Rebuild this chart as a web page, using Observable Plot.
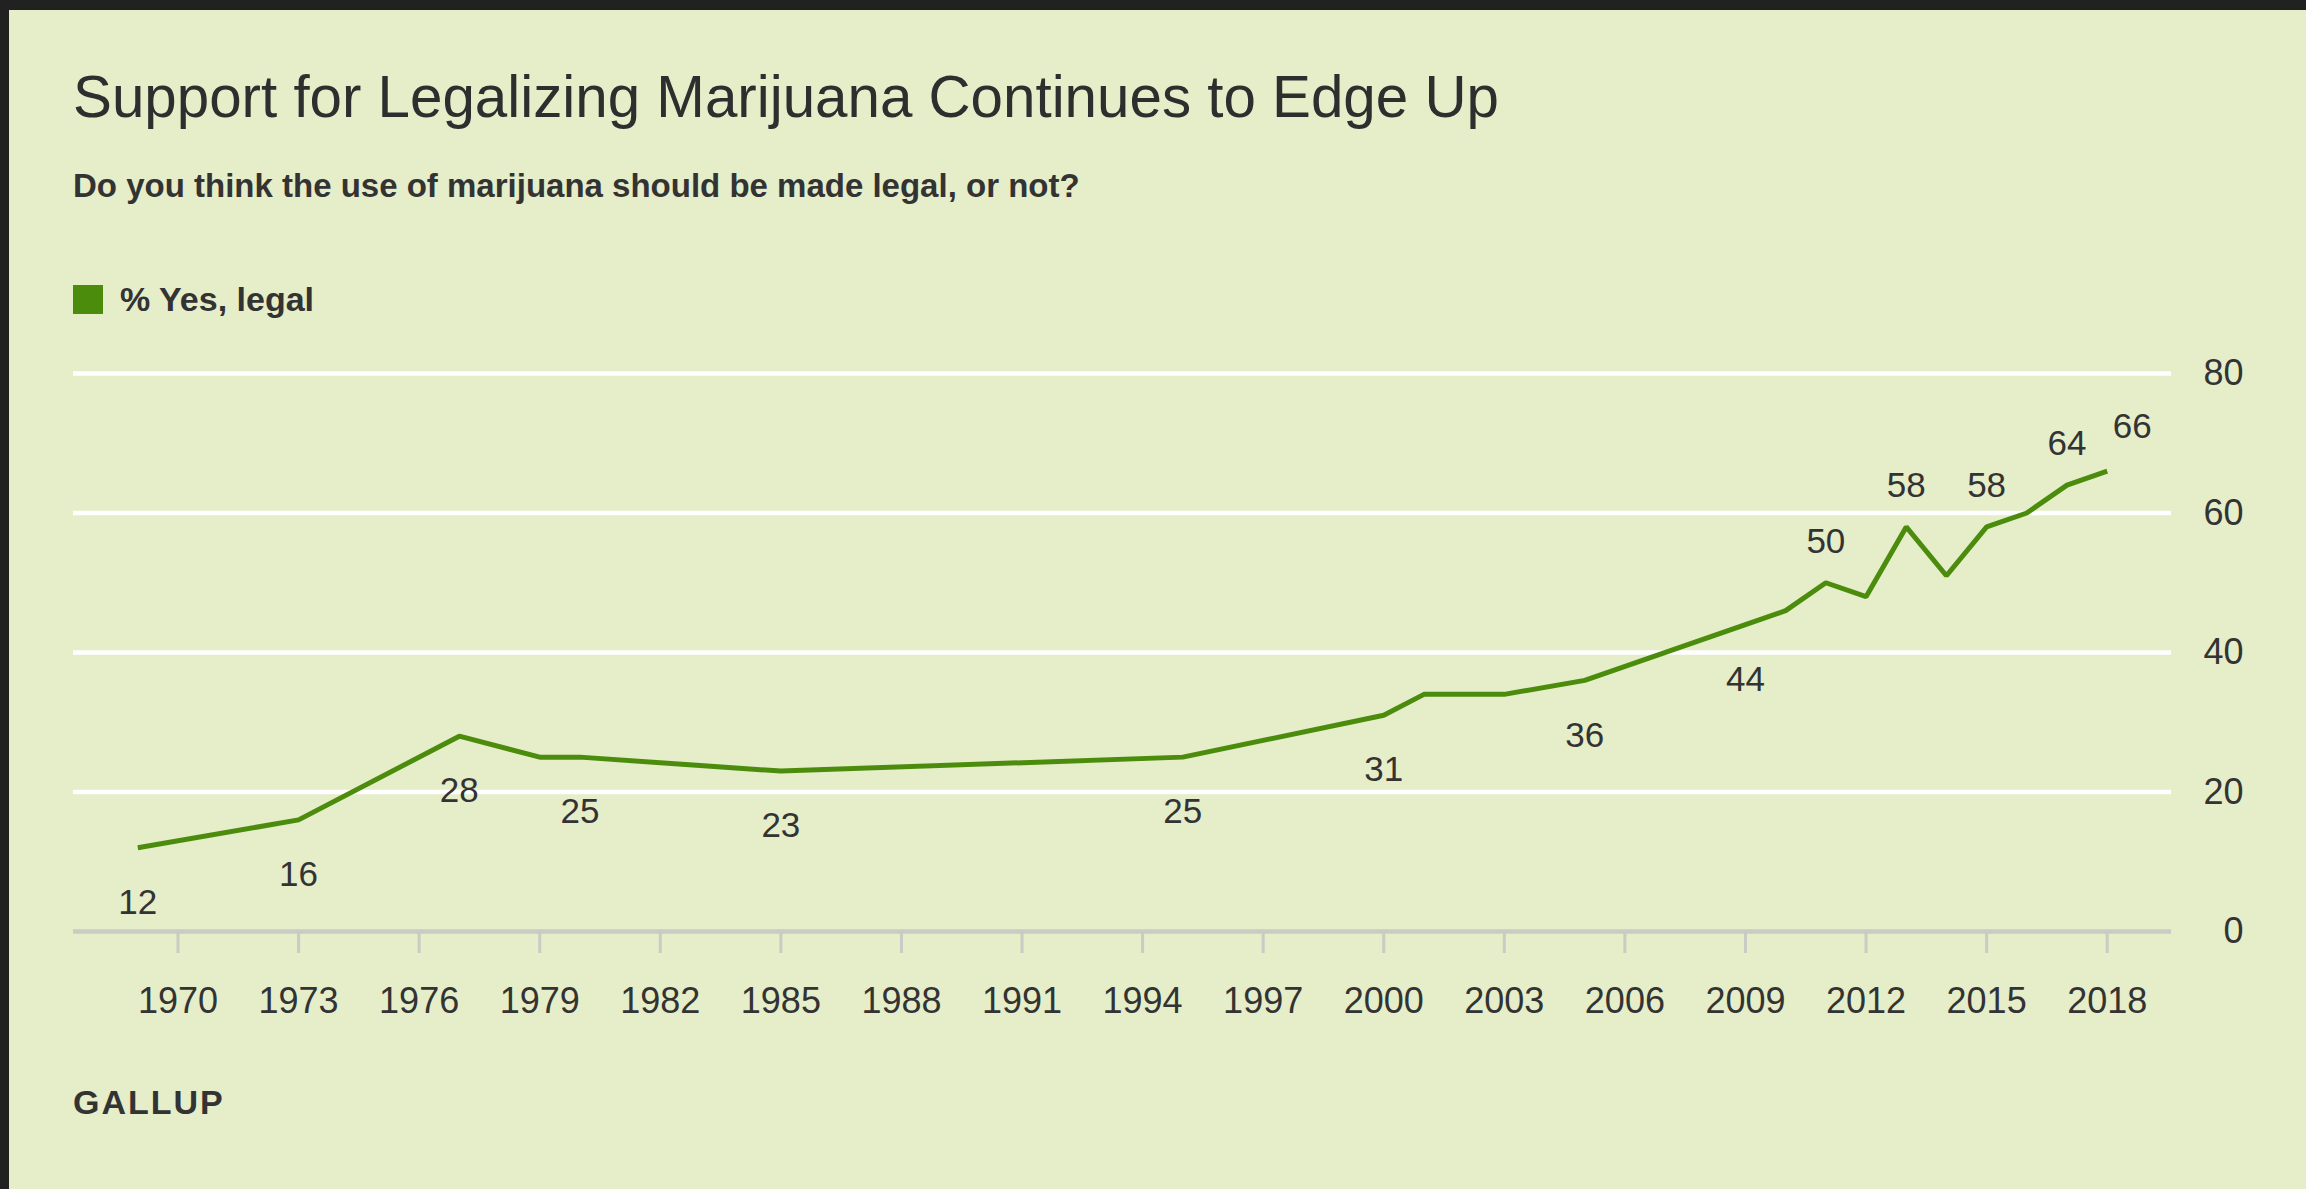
<!DOCTYPE html>
<html>
<head>
<meta charset="utf-8">
<script src="https://cdn.jsdelivr.net/npm/d3@7"></script>
<script src="https://cdn.jsdelivr.net/npm/@observablehq/plot@0.6"></script>
<style>
  html, body { margin: 0; padding: 0; }
  body {
    width: 2306px; height: 1189px; position: relative; overflow: hidden;
    background: #e5edc9; font-family: "Liberation Sans", Arial, sans-serif; color: #333;
  }
  .edge-top { position: absolute; left: 0; top: 0; width: 2306px; height: 10px; background: #212121; }
  .edge-left { position: absolute; left: 0; top: 0; width: 9px; height: 1189px; background: #212121; }
  .title { position: absolute; left: 73px; top: 68px; font-size: 58.3px; line-height: 1; white-space: nowrap; color: #2e2e2e; }
  .subtitle { position: absolute; left: 73px; top: 169px; font-size: 33px; line-height: 1; font-weight: 700; white-space: nowrap; color: #333; }
  .legend { position: absolute; left: 73px; top: 282px; height: 34px; display: flex; align-items: center; white-space: nowrap; }
  .legend .swatch { width: 30px; height: 29px; background: #4b8c0c; margin-right: 17px; }
  .legend .label { font-size: 34px; line-height: 1; font-weight: 700; color: #333; }
  #chart { position: absolute; left: 0; top: 340px; }
  .source { position: absolute; left: 73px; top: 1085px; font-size: 34px; line-height: 1; font-weight: 700; letter-spacing: 2px; color: #333; }
</style>
</head>
<body>
<div class="edge-top"></div>
<div class="edge-left"></div>
<div class="title">Support for Legalizing Marijuana Continues to Edge Up</div>
<div class="subtitle">Do you think the use of marijuana should be made legal, or not?</div>
<div class="legend"><div class="swatch"></div><div class="label">% Yes, legal</div></div>
<div id="chart"></div>
<div class="source">GALLUP</div>
<script>
// Gallup: % saying marijuana use should be made legal
const years = [1969, 1973, 1977, 1979, 1980, 1985, 1995, 2000, 2001, 2003, 2005, 2009, 2010, 2011, 2012, 2013, 2014, 2015, 2016, 2017, 2018];
const yesLegal = [12, 16, 28, 25, 25, 23, 25, 31, 34, 34, 36, 44, 46, 50, 48, 58, 51, 58, 60, 64, 66];

// Years whose values are printed next to the line
const labeledYears = [1969, 1973, 1977, 1980, 1985, 1995, 2000, 2005, 2009, 2011, 2013, 2015, 2017, 2018];

// Axis ticks
const xTicks = [1970, 1973, 1976, 1979, 1982, 1985, 1988, 1991, 1994, 1997, 2000, 2003, 2006, 2009, 2012, 2015, 2018];
const yTicks = [0, 20, 40, 60, 80];

const GREEN = "#4b8c0c";
const AXIS_GRAY = "#c9cbc4";
const TEXT = "#333";

const series = years.map((year, i) => ({year, value: yesLegal[i]}));
const labeled = series.filter(d => labeledYears.includes(d.year));
const lastYear = years[years.length - 1];
const below = labeled.filter(d => d.year < 2011);
const above = labeled.filter(d => d.year >= 2011 && d.year < lastYear);
const last = labeled.filter(d => d.year === lastYear);

const chart = Plot.plot({
  width: 2306,
  height: 720,
  marginTop: 33,
  marginBottom: 129,
  marginLeft: 73,
  marginRight: 135,
  x: {domain: [1967.4, 2019.6]},
  y: {domain: [0, 80]},
  style: {background: "transparent", fontFamily: "'Liberation Sans', Arial, sans-serif", color: TEXT, overflow: "visible"},
  marks: [
    Plot.gridY(yTicks.filter(v => v > 0), {stroke: "#ffffff", strokeOpacity: 1, strokeWidth: 4.5}),
    Plot.ruleY([0], {stroke: AXIS_GRAY, strokeWidth: 4.5}),
    Plot.axisX({
      ticks: xTicks, tickFormat: d => String(d), tickSize: 22, tickPadding: 34,
      stroke: AXIS_GRAY, strokeWidth: 3, fill: TEXT, fontSize: 36, label: null
    }),
    Plot.axisY({
      anchor: "right", ticks: yTicks, tickSize: 0, tickPadding: 72, textAnchor: "end",
      fill: TEXT, fontSize: 36, label: null
    }),
    Plot.line(series, {x: "year", y: "value", stroke: GREEN, strokeWidth: 5, strokeLinejoin: "miter", strokeLinecap: "butt"}),
    Plot.text(below, {x: "year", y: "value", text: d => String(d.value), dy: 55, fill: TEXT, fontSize: 35}),
    Plot.text(above, {x: "year", y: "value", text: d => String(d.value), dy: -41, fill: TEXT, fontSize: 35}),
    Plot.text(last, {x: "year", y: "value", text: d => String(d.value), dx: 25, dy: -44, fill: TEXT, fontSize: 35})
  ]
});
document.getElementById("chart").appendChild(chart);
</script>
</body>
</html>
